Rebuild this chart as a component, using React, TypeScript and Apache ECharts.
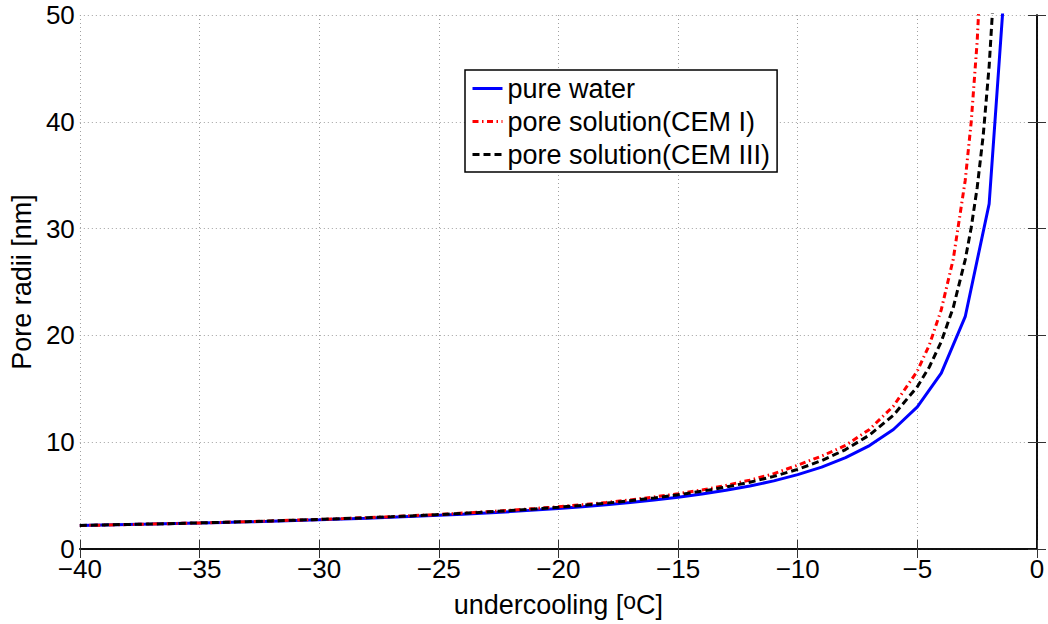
import React, { useEffect, useRef } from "react";
import * as echarts from "echarts";

const seriesNames = ["pure water", "pore solution(CEM I)", "pore solution(CEM III)"];

const waterX = [-40, -39, -38, -37, -36, -35, -34, -33, -32, -31, -30, -29, -28, -27, -26, -25, -24, -23, -22, -21, -20, -19, -18, -17, -16, -15, -14, -13, -12, -11, -10, -9, -8, -7, -6, -5, -4, -3, -2, -1];
const waterY = [2.21, 2.25, 2.29, 2.33, 2.38, 2.43, 2.49, 2.54, 2.6, 2.67, 2.73, 2.81, 2.88, 2.97, 3.06, 3.16, 3.26, 3.38, 3.5, 3.64, 3.79, 3.96, 4.14, 4.35, 4.58, 4.85, 5.15, 5.5, 5.9, 6.38, 6.96, 7.66, 8.55, 9.68, 11.19, 13.3, 16.47, 21.75, 32.32, 64.02];

const cem1X = [-40, -39, -38, -37, -36, -35, -34, -33, -32, -31, -30, -29, -28, -27, -26, -25, -24, -23, -22, -21, -20, -19, -18, -17, -16, -15, -14, -13, -12, -11, -10, -9, -8, -7, -6, -5, -4.5, -4, -3.5, -3, -2.75, -2.5, -2.25];
const cem1Y = [2.2, 2.24, 2.29, 2.34, 2.39, 2.44, 2.5, 2.56, 2.63, 2.7, 2.77, 2.85, 2.94, 3.03, 3.13, 3.24, 3.36, 3.49, 3.63, 3.79, 3.96, 4.15, 4.36, 4.6, 4.87, 5.17, 5.53, 5.95, 6.45, 7.05, 7.85, 8.7, 9.7, 11.2, 13.38, 16.67, 19.1, 22.41, 27.14, 34.51, 39.97, 47.54, 58.7];

const cem3X = [-40, -39, -38, -37, -36, -35, -34, -33, -32, -31, -30, -29, -28, -27, -26, -25, -24, -23, -22, -21, -20, -19, -18, -17, -16, -15, -14, -13, -12, -11, -10, -9, -8, -7, -6, -5, -4.5, -4, -3.5, -3, -2.75, -2.5, -2.25, -2, -1.75];
const cem3Y = [2.21, 2.25, 2.3, 2.34, 2.39, 2.45, 2.5, 2.56, 2.63, 2.7, 2.77, 2.85, 2.93, 3.02, 3.12, 3.22, 3.34, 3.46, 3.6, 3.75, 3.91, 4.09, 4.29, 4.52, 4.78, 5.07, 5.41, 5.8, 6.25, 6.8, 7.46, 8.28, 9.31, 10.67, 12.52, 15.2, 17.04, 19.42, 22.61, 27.08, 30.08, 33.83, 38.68, 45.19, 54.38];

const xTickMin = -40;
const xTickMax = 0;
const xTickStep = 5;
const yTickMin = 0;
const yTickMax = 50;
const yTickStep = 10;

const FONT = "'Liberation Sans', Arial, Helvetica, sans-serif";

const zip = (xs: number[], ys: number[]) => xs.map((x, i) => [x, ys[i]]);
const fmtNum = (v: number) => (v < 0 ? "\u2212" + Math.abs(v) : String(v));

export default function App() {
  const ref = useRef<HTMLDivElement>(null);
  useEffect(() => {
    if (!ref.current) return;
    const chart = echarts.init(ref.current, undefined, { renderer: "svg" });
    const axisLine = { show: true, lineStyle: { color: "#000", width: 1.5 } };
    const tick = { show: true, inside: true, length: 9, lineStyle: { color: "#333", width: 1 } };
    const split = { show: true, lineStyle: { color: "#a0a0a0", width: 1, type: [1, 3] as any } };
    const option: any = {
      animation: false,
      backgroundColor: "#fff",
      grid: { left: 77, right: 11, top: 15, bottom: 75, show: false },
      legend: {
        orient: "vertical",
        left: 465,
        top: 70,
        padding: [5, 7, 4, 6],
        itemGap: 6,
        itemWidth: 30,
        itemHeight: 27,
        itemTextGap: 4,
        backgroundColor: "#fff",
        borderColor: "#000",
        borderWidth: 1.5,
        borderRadius: 0,
        itemStyle: { opacity: 0, borderWidth: 0 },
        lineStyle: { width: 3 },
        textStyle: { fontFamily: FONT, fontSize: 27, color: "#000" },
        data: seriesNames,
      },
      xAxis: [
        {
          type: "value",
          min: xTickMin,
          max: xTickMax,
          interval: xTickStep,
          position: "bottom",
          axisLine,
          axisTick: tick,
          splitLine: split,
          axisLabel: { margin: 7, fontFamily: FONT, fontSize: 26, color: "#000", formatter: fmtNum },
          name: "{a|undercooling [}{s|o}{a|C]}",
          nameLocation: "middle",
          nameGap: 40,
          nameTextStyle: {
            fontFamily: FONT,
            fontSize: 27,
            color: "#000",
            rich: {
              a: { fontFamily: FONT, fontSize: 27, lineHeight: 32, color: "#000" },
              s: { fontFamily: FONT, fontSize: 23, color: "#000", verticalAlign: "top" },
            },
          },
        },
        {
          type: "value",
          min: xTickMin,
          max: xTickMax,
          interval: xTickStep,
          position: "top",
          axisLine,
          axisTick: tick,
          splitLine: { show: false },
          axisLabel: { show: false },
        },
      ],
      yAxis: [
        {
          type: "value",
          min: yTickMin,
          max: yTickMax,
          interval: yTickStep,
          position: "left",
          axisLine,
          axisTick: tick,
          splitLine: split,
          axisLabel: { margin: 5, fontFamily: FONT, fontSize: 26, color: "#000", formatter: fmtNum },
          name: "Pore radii [nm]",
          nameLocation: "middle",
          nameGap: 39,
          nameTextStyle: { fontFamily: FONT, fontSize: 27, color: "#000" },
        },
        {
          type: "value",
          min: yTickMin,
          max: yTickMax,
          interval: yTickStep,
          position: "right",
          axisLine,
          axisTick: tick,
          splitLine: { show: false },
          axisLabel: { show: false },
        },
      ],
      series: [
        {
          name: seriesNames[0],
          type: "line",
          data: zip(waterX, waterY),
          symbol: "none",
          clip: true,
          color: "#0000ff",
          lineStyle: { color: "#0000ff", width: 3, type: "solid" },
        },
        {
          name: seriesNames[1],
          type: "line",
          data: zip(cem1X, cem1Y),
          symbol: "none",
          clip: true,
          color: "#ff0000",
          lineStyle: { color: "#ff0000", width: 3, type: [6, 3.5, 1.5, 3.5] },
        },
        {
          name: seriesNames[2],
          type: "line",
          data: zip(cem3X, cem3Y),
          symbol: "none",
          clip: true,
          color: "#000000",
          lineStyle: { color: "#000000", width: 3, type: [7, 4] },
        },
      ],
    };
    chart.setOption(option);
    return () => chart.dispose();
  }, []);
  return (
    <div
      ref={ref}
      style={{ position: "fixed", left: 0, top: 0, width: 1048, height: 624, background: "#fff" }}
    />
  );
}
